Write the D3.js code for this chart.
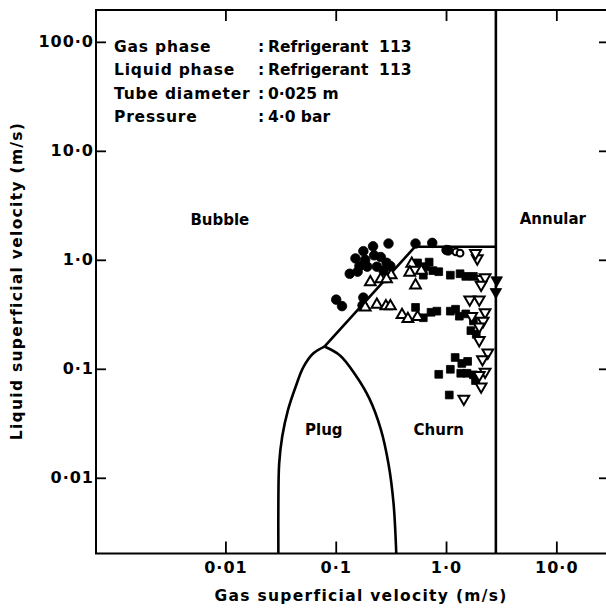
<!DOCTYPE html>
<html><head><meta charset="utf-8">
<script src="https://cdn.jsdelivr.net/npm/d3@7"></script>
<style>
body{margin:0;background:#fff}
text{font-family:"DejaVu Sans";font-weight:bold;fill:#000}
</style>
</head><body>
<svg id="c" width="606" height="609"></svg>
<script>
// ---------- data ----------
const xTicks = [0.01, 0.1, 1, 10];
const xTickLabels = ["0·01", "0·1", "1·0", "10·0"];
const yTicks = [0.01, 0.1, 1, 10, 100];
const yTickLabels = ["0·01", "0·1", "1·0", "10·0", "100·0"];

const infoLabels = ["Gas phase", "Liquid phase", "Tube diameter", "Pressure"];
const infoValues = ["Refrigerant  113", "Refrigerant  113", "0·025 m", "4·0 bar"];

const regionNames = ["Bubble", "Annular", "Plug", "Churn"];
const regionAt = [[0.0089, 2.1], [9.3, 2.15], [0.078, 0.0245], [0.86, 0.0245]];

// boundaries (gas, liquid superficial velocities, m/s)
const annularJg = 2.83;
const bubbleTop = [[0.079, 0.16], [0.524, 1.32], [2.83, 1.32]];
const plugLeft = [[0.0302, 0.00202], [0.0302, 0.0059], [0.0307, 0.0134], [0.0327, 0.0238],
  [0.037, 0.0422], [0.0434, 0.0688], [0.0509, 0.1035], [0.0624, 0.138], [0.079, 0.16]];
const plugRight = [[0.079, 0.16], [0.11, 0.132], [0.151, 0.0877], [0.201, 0.0538],
  [0.256, 0.028], [0.301, 0.0134], [0.334, 0.0059], [0.354, 0.00202]];

const filledCircles = [[0.301,1.41],[0.218,1.33],[0.178,1.20],[0.151,1.03],[0.185,1.0],
  [0.223,1.10],[0.256,1.06],[0.289,0.94],[0.236,0.865],[0.193,0.865],[0.164,0.877],
  [0.158,0.778],[0.134,0.745],[0.271,0.796],[0.313,0.877],[0.529,1.41],[0.75,1.43],
  [1.05,1.22],[1.01,1.23],[0.101,0.431],[0.114,0.376],[0.178,0.45],[0.175,0.382]];
const openCircles = [[1.23,1.18],[1.34,1.15]];
const openUp = [[0.206,0.623],[0.256,0.665],[0.318,0.723],[0.289,0.665],[0.185,0.366],
  [0.236,0.388],[0.285,0.376],[0.313,0.376],[0.489,0.923],[0.469,0.764],[0.597,0.796],
  [0.529,0.584],[0.399,0.312],[0.451,0.287],[0.552,0.299]];
const filledSquares = [[0.552,0.937],[0.648,0.865],[0.703,0.953],[0.760,0.796],[0.859,0.778],
  [1.094,0.723],[1.34,0.745],[1.51,0.705],[1.77,0.705],[0.622,0.723],[0.529,0.366],
  [0.622,0.294],[0.731,0.33],[0.826,0.338],[1.094,0.338],[1.22,0.352],[1.32,0.304],
  [1.51,0.319],[1.68,0.224],[1.77,0.275],[1.88,0.207],[0.859,0.089],[1.094,0.099],
  [1.21,0.127],[1.39,0.112],[1.57,0.117],[1.36,0.091],[1.55,0.091],[1.77,0.088],
  [1.85,0.078],[1.07,0.0575]];
const openDown = [[1.92,1.03],[1.85,1.15],[2.08,0.665],[2.26,0.69],[2.08,0.589],[1.64,0.431],
  [2.0,0.431],[2.26,0.33],[1.71,0.304],[2.17,0.275],[2.0,0.244],[2.0,0.183],[2.39,0.141],
  [2.14,0.122],[2.26,0.0937],[2.0,0.0877],[2.08,0.0688],[1.45,0.053]];
const filledDown = [[2.88,0.65],[2.83,0.508]];

// ---------- layout ----------
const L = 96, R = 608, T = 10, B = 553.5;
const svg = d3.select("#c");
const x = d3.scaleLog().domain([0.000671, 29.4]).range([L, R]);
const y = d3.scaleLog().domain([0.00202, 196]).range([B, T]);

// frame
svg.append("rect").attr("x", L).attr("y", T).attr("width", R - L).attr("height", B - T)
  .attr("fill", "none").attr("stroke", "#000").attr("stroke-width", 2);

// axes
const gx = svg.append("g").attr("transform", `translate(0,${B})`)
  .call(d3.axisBottom(x).tickValues(xTicks).tickSize(-12).tickPadding(8)
    .tickFormat((d, i) => xTickLabels[i]));
const gy = svg.append("g").attr("transform", `translate(${L},0)`)
  .call(d3.axisLeft(y).tickValues(yTicks).tickSize(-10).tickPadding(2)
    .tickFormat((d, i) => yTickLabels[i]));
const gt = svg.append("g").attr("transform", `translate(0,${T})`)
  .call(d3.axisTop(x).tickValues(xTicks).tickSize(-11).tickFormat(""));
const gr = svg.append("g").attr("transform", `translate(${R},0)`)
  .call(d3.axisRight(y).tickValues(yTicks).tickSize(-9).tickFormat(""));
[gx, gy, gt, gr].forEach(g => {
  g.attr("font-size", null).attr("font-family", null);
  g.select(".domain").remove();
  g.selectAll(".tick line").attr("stroke", "#000").attr("stroke-width", 1.8);
  g.selectAll(".tick text").attr("font-family", "DejaVu Sans").attr("font-weight", "bold")
    .attr("font-size", 16).attr("letter-spacing", 1).attr("fill", "#000");
});

// boundaries
const line = d3.line().x(d => x(d[0])).y(d => y(d[1]));
const curve = d3.line().x(d => x(d[0])).y(d => y(d[1])).curve(d3.curveCatmullRom);
const bstyle = s => s.attr("fill", "none").attr("stroke", "#000").attr("stroke-width", 2.6);
svg.append("line").attr("x1", x(annularJg)).attr("x2", x(annularJg))
  .attr("y1", y(0.00202)).attr("y2", y(196)).call(bstyle);
svg.append("path").attr("d", line(bubbleTop)).call(bstyle).attr("stroke-linejoin", "round");
svg.append("path").attr("d", curve(plugLeft)).call(bstyle);
svg.append("path").attr("d", curve(plugRight)).call(bstyle);

// markers
function pts(data, type, size, filled, rot) {
  svg.append("g").selectAll("path").data(data).join("path")
    .attr("d", d3.symbol().type(type).size(size))
    .attr("transform", d => `translate(${x(d[0])},${y(d[1])})${rot ? " rotate(180)" : ""}`)
    .attr("fill", filled ? "#000" : "#fff")
    .attr("stroke", "#000").attr("stroke-width", filled ? 0.8 : 2);
}
pts(filledCircles, d3.symbolCircle, 72, true, false);
pts(filledSquares, d3.symbolSquare, 60, true, false);
pts(filledDown, d3.symbolTriangle, 58, true, true);
pts(openCircles, d3.symbolCircle, 36, false, false);
pts(openUp, d3.symbolTriangle, 50, false, false);
pts(openDown, d3.symbolTriangle, 50, false, true);

// region labels
svg.append("g").selectAll("text").data(regionNames).join("text")
  .attr("x", (d, i) => x(regionAt[i][0])).attr("y", (d, i) => y(regionAt[i][1]))
  .attr("text-anchor", "middle").style("font-size", "15px").text(d => d);

// info block
const info = svg.append("g");
info.selectAll("text.l").data(infoLabels).join("text").attr("class", "l")
  .attr("x", 114).attr("y", (d, i) => 52 + i * 23.3).style("font-size", "15.5px")
  .style("letter-spacing", "0.8px").text(d => d);
info.selectAll("text.c").data(infoLabels).join("text").attr("class", "c")
  .attr("x", 258).attr("y", (d, i) => 52 + i * 23.3).style("font-size", "15.5px").text(":");
info.selectAll("text.v").data(infoValues).join("text").attr("class", "v")
  .attr("x", 268).attr("y", (d, i) => 52 + i * 23.3).style("font-size", "15.5px")
  .style("white-space", "pre").text(d => d);

// axis titles
svg.append("text").attr("x", 361).attr("y", 601).attr("text-anchor", "middle")
  .style("font-size", "15.5px").style("letter-spacing", "1.3px")
  .text("Gas superficial velocity (m/s)");
svg.append("text").attr("transform", "translate(22,281) rotate(-90)").attr("text-anchor", "middle")
  .style("font-size", "15.5px").style("letter-spacing", "1.3px")
  .text("Liquid superficial velocity (m/s)");
</script>
</body></html>
